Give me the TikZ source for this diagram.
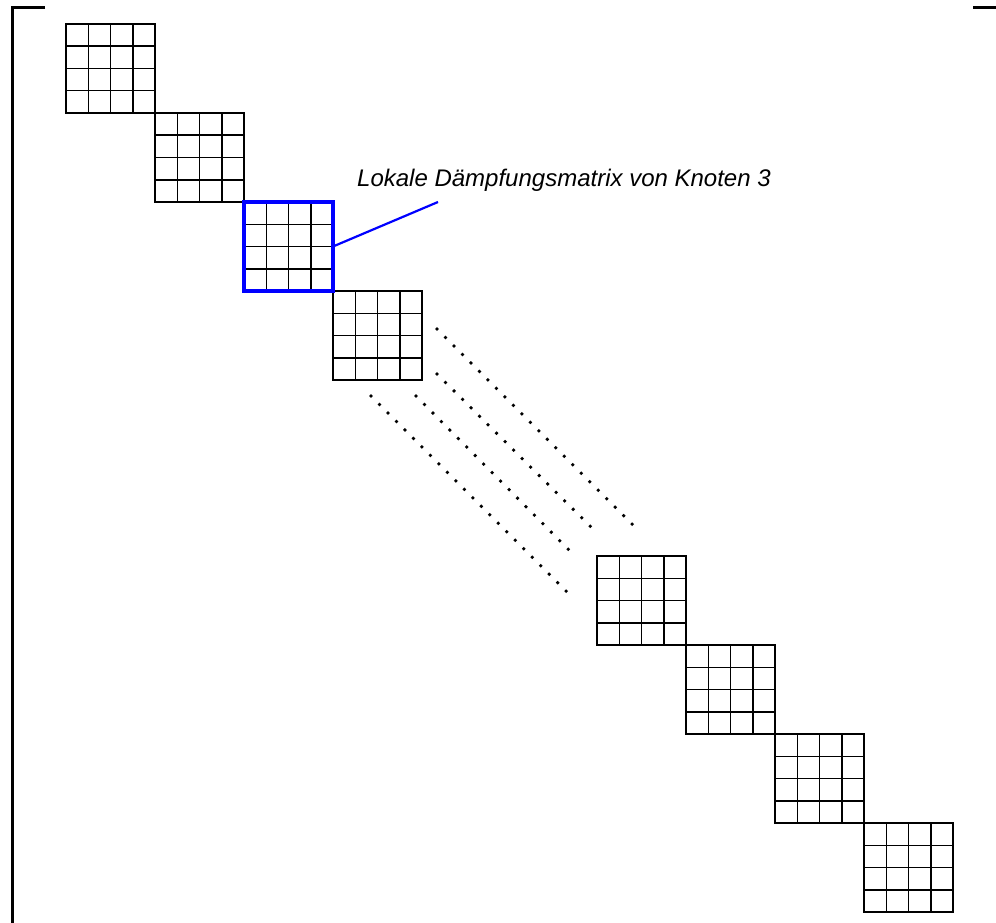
\documentclass[tikz,border=0pt]{standalone}
\usepackage{fontspec}
\setmainfont{Liberation Sans}
\usetikzlibrary{calc}
\begin{document}
\begin{tikzpicture}[x=1pt,y=-1pt,
  blk/.style={draw, line width=1.5pt, minimum size=89pt, inner sep=0pt, outer sep=0pt, anchor=north west},
  gridline/.style={line width=1.5pt},
  bracket/.style={line width=3pt},
  dotline/.style={line width=3.8pt, line cap=round, dash pattern=on 0pt off 12pt},
  hilite/.style={draw=blue, line width=4pt},
  leader/.style={draw=blue, line width=2.2pt},
  lbl/.style={font=\itshape\fontsize{24}{24}\selectfont, anchor=base west, inner sep=0pt}]
\useasboundingbox (0,0) rectangle (996,923);
% brackets
\draw[bracket] (45,8) -- (12,8) -- (12,923);
\draw[bracket] (973,8) -- (996,8);
% blocks
\foreach \i/\x/\y in {1/66/24, 2/155/113, 3/244/202, 4/333/291, 5/597/556, 6/686/645, 7/775/734, 8/864/823} {
  \node[blk] (b\i) at (\x,\y) {};
  \foreach \k in {1,2,3} {
    \draw[gridline] ($(b\i.north west)!\k/4!(b\i.north east)$) -- ($(b\i.south west)!\k/4!(b\i.south east)$);
    \draw[gridline] ($(b\i.north west)!\k/4!(b\i.south west)$) -- ($(b\i.north east)!\k/4!(b\i.south east)$);
  }
}
\draw[hilite] (b3.north west) rectangle (b3.south east);
% label and leader
\node[lbl] (label) at (357,186) {Lokale Dämpfungsmatrix von Knoten 3};
\coordinate (lend) at (438,202);
\draw[leader] (b3.east) -- (lend);
% dotted diagonals
\coordinate (d1s) at (437,329); \coordinate (d1e) at (640,532);
\coordinate (d2s) at (437,374); \coordinate (d2e) at (596,532);
\coordinate (d3s) at (371,396); \coordinate (d3e) at (574,599);
\coordinate (d4s) at (416,396); \coordinate (d4e) at (574,555);
\draw[dotline] (d1s) -- (d1e);
\draw[dotline] (d2s) -- (d2e);
\draw[dotline] (d3s) -- (d3e);
\draw[dotline] (d4s) -- (d4e);
\end{tikzpicture}
\end{document}
